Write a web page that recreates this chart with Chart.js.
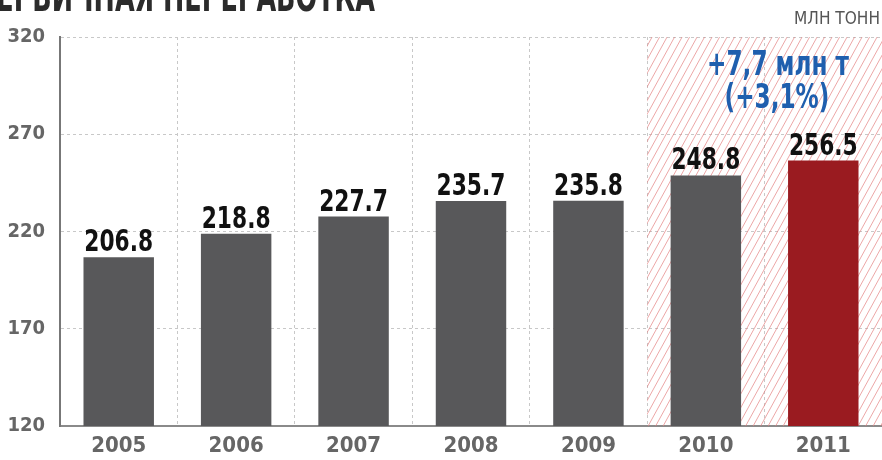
<!DOCTYPE html>
<html>
<head>
<meta charset="utf-8">
<script src="https://cdn.jsdelivr.net/npm/chart.js@4.4.1/dist/chart.umd.min.js"></script>
<style>
  html, body { margin: 0; padding: 0; background: #fff; }
  #wrap { width: 882px; height: 460px; position: relative; }
</style>
</head>
<body>
<div id="wrap"><canvas id="processingChart" width="882" height="460"></canvas></div>
<script>
// chart data
const years = ['2005', '2006', '2007', '2008', '2009', '2010', '2011'];
const volumes = [206.8, 218.8, 227.7, 235.7, 235.8, 248.8, 256.5];
const barColors = ['#58585a', '#58585a', '#58585a', '#58585a', '#58585a', '#58585a', '#9a1b20'];
const yTicks = [120, 170, 220, 270, 320];
const growthLines = ['+7,7 млн т', '(+3,1%)'];
const titleText = 'ПЕРВИЧНАЯ ПЕРЕРАБОТКА';
const unitText = 'МЛН ТОНН';

const FONT = "'DejaVu Sans Condensed', 'Liberation Sans Narrow', sans-serif";

// draws text squeezed horizontally to look like a condensed face
function squeezed(ctx, text, x, y, sx) {
  ctx.save();
  ctx.translate(x, y);
  ctx.scale(sx, 1);
  ctx.fillText(text, 0, 0);
  ctx.restore();
}

// Hatched background for the last two years + header texts
const hatchPlugin = {
  id: 'hatch',
  beforeDatasetsDraw(chart) {
    const { ctx, chartArea, scales } = chart;
    const x0 = scales.x.getPixelForValue(4.5);
    const x1 = chartArea.right;
    const top = chartArea.top, bottom = chartArea.bottom;
    ctx.save();
    ctx.beginPath();
    ctx.rect(x0, top, x1 - x0, bottom - top);
    ctx.clip();
    ctx.strokeStyle = 'rgba(228, 130, 130, 0.7)';
    ctx.lineWidth = 1;
    const h = bottom - top;
    for (let x = x0 - h; x < x1 + h; x += 7.5) {
      ctx.beginPath();
      ctx.moveTo(x, bottom);
      ctx.lineTo(x + h * 0.55, top);
      ctx.stroke();
    }
    ctx.restore();
  },
  afterDraw(chart) {
    const { ctx } = chart;
    ctx.save();
    // title, cut off at the top edge
    ctx.fillStyle = '#2b2b2b';
    ctx.font = 'bold 42px ' + FONT;
    ctx.textAlign = 'right';
    ctx.textBaseline = 'alphabetic';
    const tw = ctx.measureText(titleText).width;
    squeezed(ctx, titleText, 375, 11, 400 / tw);
    // units
    ctx.fillStyle = '#555';
    ctx.font = '18px ' + FONT;
    ctx.textBaseline = 'middle';
    squeezed(ctx, unitText, 880, 19, 0.95);
    // growth note
    ctx.fillStyle = '#1f5fae';
    ctx.font = 'bold 33px ' + FONT;
    ctx.textAlign = 'center';
    squeezed(ctx, growthLines[0], 778, 66, 0.78);
    squeezed(ctx, growthLines[1], 777, 99, 0.78);
    ctx.restore();
  }
};

// value labels above bars
const valueLabels = {
  id: 'valueLabels',
  afterDatasetsDraw(chart) {
    const { ctx } = chart;
    const meta = chart.getDatasetMeta(0);
    ctx.save();
    ctx.fillStyle = '#111';
    ctx.font = 'bold 31px ' + FONT;
    ctx.textAlign = 'center';
    ctx.textBaseline = 'alphabetic';
    meta.data.forEach((bar, i) => {
      squeezed(ctx, volumes[i].toFixed(1), bar.x, bar.y - 6, 0.78);
    });
    ctx.restore();
  }
};

new Chart(document.getElementById('processingChart').getContext('2d'), {
  type: 'bar',
  data: {
    labels: years,
    datasets: [{
      data: volumes,
      backgroundColor: barColors,
      borderWidth: 0,
      barPercentage: 0.6,
      categoryPercentage: 1.0
    }]
  },
  options: {
    responsive: false,
    animation: false,
    devicePixelRatio: 1,
    layout: { padding: { top: 37, right: 0, left: 0, bottom: 0 } },
    plugins: {
      legend: { display: false },
      tooltip: { enabled: false }
    },
    scales: {
      x: {
        afterFit(scale) { scale.height = 34; },
        grid: {
          offset: true,
          color: '#c8c8c8',
          lineWidth: 1,
          drawTicks: false
        },
        border: { display: true, color: '#8a8a8a', width: 2, dash: [3, 3] },
        ticks: {
          color: '#666',
          padding: 7,
          font: { family: FONT, size: 22, weight: 'bold' }
        }
      },
      y: {
        min: 120,
        max: 320,
        afterFit(scale) { scale.width = 60; },
        afterBuildTicks(scale) { scale.ticks = yTicks.map(v => ({ value: v })); },
        grid: {
          color: '#c8c8c8',
          lineWidth: 1,
          drawTicks: false
        },
        border: { display: true, color: '#777', width: 2, dash: [3, 3] },
        ticks: {
          color: '#666',
          padding: 15,
          font: { family: FONT, size: 20, weight: 'bold' }
        }
      }
    }
  },
  plugins: [hatchPlugin, valueLabels]
});
</script>
</body>
</html>
